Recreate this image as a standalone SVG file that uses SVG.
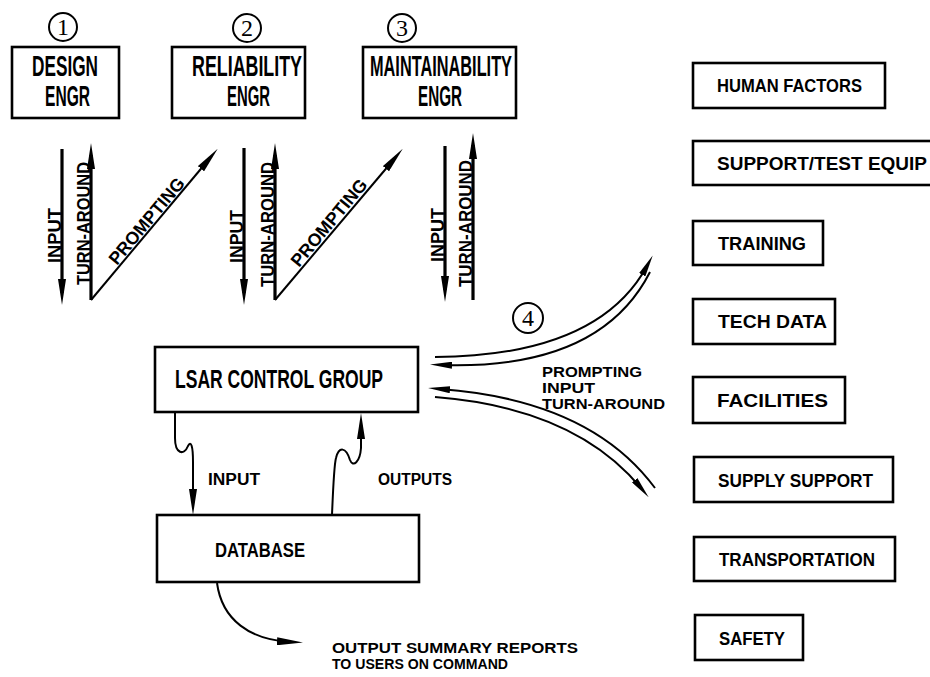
<svg xmlns="http://www.w3.org/2000/svg" width="930" height="677" viewBox="0 0 930 677">
<style>
.box{fill:#fff;stroke:#000;stroke-width:2.6}
.t{font-family:"Liberation Sans","DejaVu Sans",sans-serif;font-weight:bold;fill:#000}
.big{font-size:29px}
.mid{font-size:18px}
.sm{font-size:16px}
.xs{font-size:14px}
.num{font-family:"Liberation Serif","DejaVu Serif",serif;font-size:24px;fill:#000;text-anchor:middle}
.circ{fill:none;stroke:#000;stroke-width:2}
.thick{fill:none;stroke:#000;stroke-width:3.2}
.thin{fill:none;stroke:#000;stroke-width:2}
</style>
<defs>
<marker id="ah" viewBox="0 0 26 8" refX="14" refY="4" markerWidth="26" markerHeight="8" markerUnits="userSpaceOnUse" orient="auto"><path d="M0,0 L26,4 L0,8 z" fill="#000"/></marker>
<marker id="ah2" viewBox="0 0 22 7" refX="10" refY="3.5" markerWidth="22" markerHeight="7" markerUnits="userSpaceOnUse" orient="auto"><path d="M0,0 L22,3.5 L0,7 z" fill="#000"/></marker>
</defs>
<rect width="930" height="677" fill="#fff"/>

<g id="design">
<circle class="circ" cx="63" cy="27" r="14"/><text class="num" x="63" y="35">1</text>
<rect class="box" x="12" y="47" width="107" height="71"/>
<text class="t big" x="32" y="76" textLength="66" lengthAdjust="spacingAndGlyphs">DESIGN</text>
<text class="t big" x="45" y="106" textLength="45" lengthAdjust="spacingAndGlyphs">ENGR</text>
</g>
<g id="reliability">
<circle class="circ" cx="247" cy="28" r="14"/><text class="num" x="247" y="36">2</text>
<rect class="box" x="172" y="47" width="133" height="71"/>
<text class="t big" x="192" y="76" textLength="110" lengthAdjust="spacingAndGlyphs">RELIABILITY</text>
<text class="t big" x="227" y="106" textLength="43" lengthAdjust="spacingAndGlyphs">ENGR</text>
</g>
<g id="maintainability">
<circle class="circ" cx="402" cy="28" r="14"/><text class="num" x="402" y="36">3</text>
<rect class="box" x="363" y="47" width="153" height="71"/>
<text class="t big" x="370" y="76" textLength="142" lengthAdjust="spacingAndGlyphs">MAINTAINABILITY</text>
<text class="t big" x="418" y="106" textLength="44" lengthAdjust="spacingAndGlyphs">ENGR</text>
</g>

<g id="lsar">
<rect class="box" x="155" y="347" width="263" height="65"/>
<text class="t" style="font-size:25px" x="175" y="388" textLength="208" lengthAdjust="spacingAndGlyphs">LSAR CONTROL GROUP</text>
</g>
<g id="database">
<rect class="box" x="157" y="515" width="262" height="67"/>
<text class="t" style="font-size:21px" x="215" y="557" textLength="90" lengthAdjust="spacingAndGlyphs">DATABASE</text>
</g>

<g id="human-factors"><rect class="box" x="693" y="63" width="192" height="45"/><text class="t mid" x="717" y="92" textLength="145" lengthAdjust="spacingAndGlyphs">HUMAN FACTORS</text></g>
<g id="support-test-equip"><rect class="box" x="693" y="141" width="245" height="44"/><text class="t mid" x="717" y="170" textLength="210" lengthAdjust="spacingAndGlyphs">SUPPORT/TEST EQUIP</text></g>
<g id="training"><rect class="box" x="693" y="221" width="130" height="44"/><text class="t mid" x="718" y="250" textLength="88" lengthAdjust="spacingAndGlyphs">TRAINING</text></g>
<g id="tech-data"><rect class="box" x="693" y="299" width="142" height="45"/><text class="t mid" x="718" y="328" textLength="109" lengthAdjust="spacingAndGlyphs">TECH DATA</text></g>
<g id="facilities"><rect class="box" x="693" y="377" width="152" height="46"/><text class="t mid" x="717" y="407" textLength="111" lengthAdjust="spacingAndGlyphs">FACILITIES</text></g>
<g id="supply-support"><rect class="box" x="694" y="457" width="199" height="45"/><text class="t mid" x="718" y="487" textLength="155" lengthAdjust="spacingAndGlyphs">SUPPLY SUPPORT</text></g>
<g id="transportation"><rect class="box" x="694" y="537" width="201" height="44"/><text class="t mid" x="719" y="566" textLength="156" lengthAdjust="spacingAndGlyphs">TRANSPORTATION</text></g>
<g id="safety"><rect class="box" x="695" y="615" width="108" height="45"/><text class="t mid" x="719" y="645" textLength="66" lengthAdjust="spacingAndGlyphs">SAFETY</text></g>

<g id="connectors">
<path class="thick" d="M62,149 V293" marker-end="url(#ah)"/>
<path class="thick" d="M91,300 V155" marker-end="url(#ah)"/>
<path class="thin" d="M91,300 L210,158" marker-end="url(#ah)"/>
<path class="thick" d="M244,148 V293" marker-end="url(#ah)"/>
<path class="thick" d="M275,300 V155" marker-end="url(#ah)"/>
<path class="thin" d="M275,300 L395,158" marker-end="url(#ah)"/>
<path class="thick" d="M445,146 V290" marker-end="url(#ah)"/>
<path class="thick" d="M473,300 V145" marker-end="url(#ah)"/>

<path class="thin" d="M435,357 Q598,356 647,266" marker-end="url(#ah2)"/>
<path class="thin" d="M650,272 Q600,370 442,365" marker-end="url(#ah2)"/>
<path class="thin" d="M655,488 Q590,400 440,389" marker-end="url(#ah2)"/>
<path class="thin" d="M435,397 Q575,408 641,488" marker-end="url(#ah2)"/>

<path class="thin" d="M175,412 V438 C175,454 184,456 188,446 C191,440 193,446 193,462 V503" marker-end="url(#ah)"/>
<path class="thin" d="M332,515 C333,490 334,465 336,458 C339,446 346,447 350,460 C353,468 360,462 361,448 V425" marker-end="url(#ah)"/>
<path class="thin" d="M217,583 C222,620 250,640 291,642" marker-end="url(#ah)"/>
</g>

<g id="labels">
<text class="t mid" transform="translate(61,263) rotate(-90)" textLength="55" lengthAdjust="spacingAndGlyphs">INPUT</text>
<text class="t mid" transform="translate(90,285) rotate(-90)" textLength="123" lengthAdjust="spacingAndGlyphs">TURN-AROUND</text>
<text class="t mid" transform="translate(117,266) rotate(-50)" textLength="107" lengthAdjust="spacingAndGlyphs">PROMPTING</text>
<text class="t mid" transform="translate(243,263) rotate(-90)" textLength="53" lengthAdjust="spacingAndGlyphs">INPUT</text>
<text class="t mid" transform="translate(274,287) rotate(-90)" textLength="125" lengthAdjust="spacingAndGlyphs">TURN-AROUND</text>
<text class="t mid" transform="translate(299,268) rotate(-50)" textLength="108" lengthAdjust="spacingAndGlyphs">PROMPTING</text>
<text class="t mid" transform="translate(444,262) rotate(-90)" textLength="54" lengthAdjust="spacingAndGlyphs">INPUT</text>
<text class="t mid" transform="translate(472,287) rotate(-90)" textLength="127" lengthAdjust="spacingAndGlyphs">TURN-AROUND</text>

<circle class="circ" cx="528" cy="318" r="15"/><text class="num" x="528" y="326">4</text>
<text class="t xs" x="542" y="377" textLength="100" lengthAdjust="spacingAndGlyphs">PROMPTING</text>
<text class="t xs" x="542" y="393" textLength="53" lengthAdjust="spacingAndGlyphs">INPUT</text>
<text class="t xs" x="542" y="409" textLength="123" lengthAdjust="spacingAndGlyphs">TURN-AROUND</text>

<text class="t sm" x="208" y="485" textLength="52" lengthAdjust="spacingAndGlyphs">INPUT</text>
<text class="t sm" x="378" y="485" textLength="74" lengthAdjust="spacingAndGlyphs">OUTPUTS</text>

<text class="t xs" x="332" y="653" textLength="246" lengthAdjust="spacingAndGlyphs">OUTPUT SUMMARY REPORTS</text>
<text class="t xs" x="332" y="669" textLength="176" lengthAdjust="spacingAndGlyphs">TO USERS ON COMMAND</text>
</g>
</svg>
